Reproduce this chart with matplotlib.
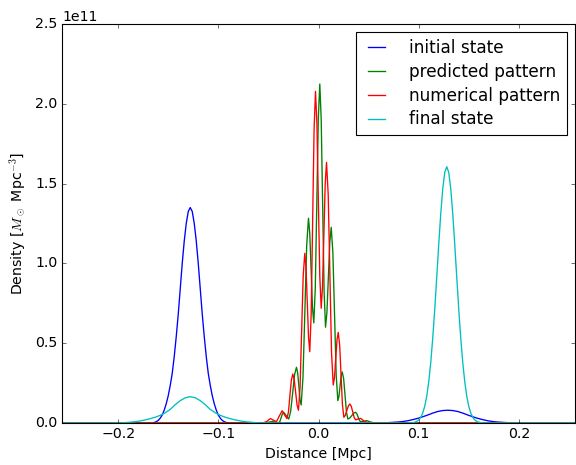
import numpy as np
import matplotlib
matplotlib.use('Agg')
import matplotlib.pyplot as plt

# distances in Mpc, densities in units of 1e11 M_sun / Mpc^3
blue_x = [-0.256, -0.168, -0.166, -0.164, -0.162, -0.160, -0.158, -0.156, -0.154, -0.152, -0.150,
          -0.148, -0.146, -0.144, -0.142, -0.140, -0.138, -0.136, -0.134, -0.132, -0.130,
          -0.128, -0.126, -0.124, -0.122, -0.120, -0.118, -0.116, -0.114, -0.112, -0.110,
          -0.108, -0.106, -0.104, -0.102, -0.100, -0.098, -0.096, -0.094, -0.092, -0.090, -0.088,
          0.049, 0.059, 0.069, 0.079, 0.084, 0.089, 0.094, 0.099, 0.104, 0.109, 0.114, 0.119,
          0.124, 0.129, 0.134, 0.139, 0.144, 0.149, 0.154, 0.159, 0.164, 0.169, 0.174, 0.179,
          0.189, 0.199, 0.209, 0.256]
blue_y = [0.0, 0.0, 0.001, 0.003, 0.008, 0.016, 0.03, 0.05, 0.08, 0.12, 0.17,
          0.235, 0.31, 0.415, 0.54, 0.68, 0.84, 1.0, 1.14, 1.25, 1.325,
          1.35, 1.325, 1.25, 1.14, 1.0, 0.84, 0.68, 0.54, 0.415, 0.31,
          0.235, 0.17, 0.12, 0.08, 0.05, 0.03, 0.016, 0.008, 0.003, 0.001, 0.0,
          0.0, 0.0005, 0.002, 0.006, 0.009, 0.014, 0.021, 0.029, 0.039, 0.05, 0.062, 0.072,
          0.078, 0.080, 0.078, 0.072, 0.062, 0.05, 0.039, 0.029, 0.021, 0.014, 0.009, 0.006,
          0.002, 0.0005, 0.0, 0.0]

green_x = [-0.256, -0.056, -0.051, -0.046, -0.043, -0.040, -0.0385, -0.0373, -0.036, -0.0347,
           -0.0322, -0.0297, -0.0278, -0.0258, -0.0239, -0.022, -0.0208, -0.0196, -0.0185, -0.0173,
           -0.0155, -0.0136, -0.0118, -0.010, -0.0087, -0.00735, -0.006, -0.0047,
           -0.0032, -0.0017, -0.0002, 0.0013, 0.0027, 0.00415, 0.0056, 0.007,
           0.0084, 0.00985, 0.0113, 0.0127, 0.01435, 0.016, 0.01765, 0.0193,
           0.0204, 0.0215, 0.0226, 0.0237, 0.0251, 0.0265, 0.0279, 0.0293,
           0.0312, 0.0332, 0.0351, 0.037, 0.0383, 0.0395, 0.0408, 0.042,
           0.045, 0.048, 0.052, 0.056, 0.256]
green_y = [0.0, 0.0, 0.003, 0.010, 0.005, 0.0, 0.01, 0.033, 0.057, 0.067,
           0.046, 0.025, 0.072, 0.187, 0.302, 0.349, 0.315, 0.231, 0.147, 0.113,
           0.284, 0.698, 1.112, 1.283, 1.187, 0.955, 0.723, 0.627,
           0.846, 1.376, 1.905, 2.124, 1.901, 1.362, 0.823, 0.600,
           0.691, 0.913, 1.135, 1.226, 1.067, 0.683, 0.299, 0.14,
           0.166, 0.23, 0.294, 0.32, 0.277, 0.173, 0.068, 0.025,
           0.031, 0.046, 0.061, 0.067, 0.058, 0.038, 0.017, 0.008,
           0.011, 0.015, 0.006, 0.0, 0.0]

red_x = [-0.256, -0.056, -0.052, -0.048, -0.045, -0.042, -0.039, -0.0363, -0.0338, -0.0315,
         -0.030, -0.0286, -0.0271, -0.0257, -0.0243, -0.02285, -0.0214, -0.020,
         -0.0184, -0.01685, -0.0153, -0.0137, -0.01245, -0.0112, -0.00995, -0.0087,
         -0.0073, -0.00585, -0.0044, -0.003, -0.0016, -0.00015, 0.0013, 0.0027,
         0.004, 0.00535, 0.0067, 0.008, 0.0097, 0.01135, 0.013, 0.0147,
         0.01595, 0.0172, 0.01845, 0.0197, 0.0211, 0.0225, 0.0239, 0.0253,
         0.0268, 0.0283, 0.0298, 0.0313, 0.0327, 0.03415, 0.0356, 0.037,
         0.0395, 0.042, 0.046, 0.050, 0.256]
red_y = [0.0, 0.0, 0.008, 0.028, 0.018, 0.008, 0.045, 0.077, 0.05, 0.028,
         0.068, 0.168, 0.267, 0.307, 0.274, 0.194, 0.113, 0.08,
         0.224, 0.572, 0.919, 1.063, 0.973, 0.755, 0.537, 0.447,
         0.685, 1.263, 1.84, 2.078, 1.88, 1.399, 0.917, 0.719,
         0.852, 1.176, 1.5, 1.633, 1.429, 0.936, 0.442, 0.238,
         0.286, 0.403, 0.52, 0.568, 0.49, 0.302, 0.114, 0.036,
         0.048, 0.078, 0.107, 0.119, 0.105, 0.07, 0.034, 0.02,
         0.025, 0.029, 0.01, 0.0, 0.0]

cyan_x = [-0.256, -0.208, -0.198, -0.193, -0.188, -0.183, -0.178, -0.173, -0.168, -0.163,
          -0.158, -0.153, -0.148, -0.143, -0.138, -0.133, -0.128, -0.123, -0.118, -0.113,
          -0.108, -0.103, -0.098, -0.093, -0.088, -0.083, -0.078, -0.073, -0.068, -0.063,
          -0.058, -0.048,
          0.088, 0.092, 0.094, 0.096, 0.098, 0.100, 0.102, 0.104, 0.106, 0.108, 0.110,
          0.112, 0.114, 0.116, 0.118, 0.120, 0.122, 0.124, 0.126, 0.128, 0.130, 0.132,
          0.134, 0.136, 0.138, 0.140, 0.142, 0.144, 0.146, 0.148, 0.150, 0.152, 0.154,
          0.156, 0.158, 0.160, 0.162, 0.164, 0.168, 0.256]
cyan_y = [0.0, 0.0, 0.001, 0.0025, 0.005, 0.008, 0.013, 0.019, 0.027, 0.036,
          0.048, 0.064, 0.085, 0.115, 0.14, 0.158, 0.165, 0.158, 0.14, 0.115,
          0.085, 0.064, 0.048, 0.036, 0.027, 0.019, 0.013, 0.008, 0.005, 0.0025,
          0.001, 0.0,
          0.0, 0.001, 0.002, 0.005, 0.010, 0.019, 0.035, 0.062, 0.104, 0.167, 0.257,
          0.377, 0.530, 0.711, 0.912, 1.118, 1.310, 1.467, 1.570, 1.606, 1.570, 1.467,
          1.310, 1.118, 0.912, 0.711, 0.530, 0.377, 0.257, 0.167, 0.104, 0.062, 0.035,
          0.019, 0.010, 0.005, 0.002, 0.001, 0.0, 0.0]

plt.style.use('classic')
plt.rcParams['font.size'] = 12.7
fig = plt.figure(figsize=(7.2, 5.8125), dpi=80, facecolor='white')
ax = fig.add_axes([62 / 576, 42 / 465, 513 / 576, 399 / 465])

ax.plot(blue_x, np.array(blue_y) * 1e11, color='b', lw=1.2, label='initial state')
ax.plot(green_x, np.array(green_y) * 1e11, color='g', lw=1.2, label='predicted pattern')
ax.plot(red_x, np.array(red_y) * 1e11, color='r', lw=1.2, label='numerical pattern')
ax.plot(cyan_x, np.array(cyan_y) * 1e11, color='c', lw=1.2, label='final state')

ax.set_xlim(-0.256, 0.256)
ax.set_ylim(0, 2.5e11)
ax.set_xticks([-0.2, -0.1, 0.0, 0.1, 0.2])
ax.set_yticks([0, 0.5e11, 1.0e11, 1.5e11, 2.0e11, 2.5e11])

ax.set_xlabel('Distance [Mpc]')
ax.set_ylabel(r'Density [$M_\odot$ Mpc$^{-3}$]')

ax.legend(loc='upper right', fontsize=15.2, handlelength=1.6, handletextpad=1.1,
          labelspacing=0.34)

fig.savefig('out.png', dpi=80, facecolor='white')
